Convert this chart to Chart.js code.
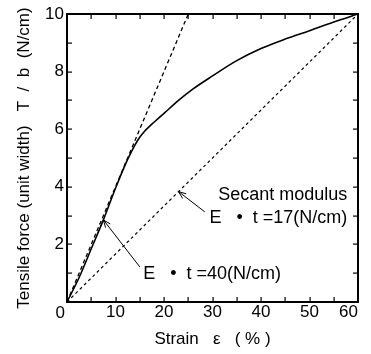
<!DOCTYPE html>
<html>
<head>
<meta charset="utf-8">
<script src="https://cdn.jsdelivr.net/npm/chart.js@4.4.1/dist/chart.umd.min.js"></script>
<style>
  html, body { margin: 0; padding: 0; background: #fff; }
  #wrap { width: 371px; height: 354px; }
</style>
</head>
<body>
<div id="wrap"><canvas id="chart" width="371" height="354"></canvas></div>
<script>
// load curve: strain (%) vs tensile force per unit width (N/cm)
const strain = [0, 2.5, 5, 7.5, 10, 12.5, 14, 15, 16, 17, 18, 20, 23, 26, 30, 35, 40, 45, 50, 55, 60];
const force = [0, 0.85, 1.85, 2.85, 3.95, 4.95, 5.45, 5.72, 5.93, 6.1, 6.25, 6.55, 7.0, 7.4, 7.85, 8.38, 8.8, 9.13, 9.42, 9.72, 10];

// initial tangent, E·t = 40 N/cm
const tangentStrain = [0, 25];
const tangentForce = [0, 10];

// secant to the end point, E·t = 17 N/cm
const secantStrain = [0, 60];
const secantForce = [0, 10];

const xTicks = [0, 10, 20, 30, 40, 50, 60];
const yTicks = [0, 2, 4, 6, 8, 10];

const FONT = '"Liberation Sans", Arial, Helvetica, sans-serif';
Chart.defaults.font.family = FONT;
Chart.defaults.font.size = 17;
Chart.defaults.color = '#000';

const toPoints = (xs, ys) => xs.map((v, i) => ({ x: v, y: ys[i] }));

// callouts, placed in data units
const secantAt = 23;
const notes = [
  {
    lines: ['Secant modulus', 'E   \u2022  t =17(N/cm)'],
    at: [57.8, [3.70, 2.93]], align: 'right',
    tail: [28.4, 3.13],
    tip: [secantAt, secantAt * secantForce[1] / secantStrain[1]]
  },
  {
    lines: ['E   \u2022  t =40(N/cm)'],
    at: [15.7, [0.97]], align: 'left',
    tail: [15.0, 1.22],
    tip: [strain[3], force[3]]
  }
];

const drawArrow = (ctx, x0, y0, x1, y1) => {
  const ang = Math.atan2(y1 - y0, x1 - x0);
  ctx.beginPath();
  ctx.moveTo(x0, y0);
  ctx.lineTo(x1, y1);
  for (const d of [-0.38, 0.38]) {
    ctx.moveTo(x1, y1);
    ctx.lineTo(x1 - 8 * Math.cos(ang + d), y1 - 8 * Math.sin(ang + d));
  }
  ctx.stroke();
};

// box frame with inward ticks on all four sides, corner zero, callouts
const framePlugin = {
  id: 'frame',
  afterDraw(chart) {
    const { ctx, chartArea: a, scales: { x, y } } = chart;
    const l = Math.round(a.left), r = Math.round(a.right);
    const t = Math.round(a.top), b = Math.round(a.bottom);
    ctx.save();
    ctx.setLineDash([]);
    ctx.fillStyle = '#000';
    ctx.fillRect(l - 1, t - 1, r - l + 2, 2);
    ctx.fillRect(l - 1, b - 1, r - l + 2, 2);
    ctx.fillRect(l - 1, t - 1, 2, b - t + 2);
    ctx.fillRect(r - 1, t - 1, 2, b - t + 2);

    for (let v = 5; v < xTicks[xTicks.length - 1]; v += 5) {
      const px = Math.round(x.getPixelForValue(v));
      ctx.fillRect(px - 0.5, b - 5, 1.2, 5);
      ctx.fillRect(px - 0.5, t, 1.2, 5);
    }
    for (let v = 1; v < yTicks[yTicks.length - 1]; v += 1) {
      const py = Math.round(y.getPixelForValue(v));
      ctx.fillRect(l, py - 0.5, 5, 1.2);
      ctx.fillRect(r - 5, py - 0.5, 5, 1.2);
    }

    ctx.font = '17px ' + FONT;
    ctx.textAlign = 'right';
    ctx.textBaseline = 'alphabetic';
    ctx.fillText(String(xTicks[0]), x.getPixelForValue(0) - 2, a.bottom + 16);

    ctx.strokeStyle = '#000';
    ctx.font = '18px ' + FONT;
    ctx.lineWidth = 1;
    ctx.textBaseline = 'middle';
    notes.forEach(n => {
      ctx.textAlign = n.align;
      n.lines.forEach((s, i) => {
        ctx.fillText(s, x.getPixelForValue(n.at[0]), y.getPixelForValue(n.at[1][i]));
      });
      drawArrow(ctx,
        x.getPixelForValue(n.tail[0]), y.getPixelForValue(n.tail[1]),
        x.getPixelForValue(n.tip[0]), y.getPixelForValue(n.tip[1]));
    });
    ctx.restore();
  }
};

new Chart(document.getElementById('chart'), {
  type: 'line',
  data: {
    datasets: [
      {
        data: toPoints(strain, force),
        borderColor: '#000',
        borderWidth: 1.6,
        pointRadius: 0,
        cubicInterpolationMode: 'monotone'
      },
      {
        data: toPoints(tangentStrain, tangentForce),
        borderColor: '#000',
        borderWidth: 1.3,
        borderDash: [4, 3],
        pointRadius: 0
      },
      {
        data: toPoints(secantStrain, secantForce),
        borderColor: '#000',
        borderWidth: 1.2,
        borderDash: [3, 3],
        pointRadius: 0
      }
    ]
  },
  options: {
    responsive: false,
    animation: false,
    layout: { padding: { left: 0, right: 13, top: 14, bottom: 4 } },
    plugins: { legend: { display: false }, tooltip: { enabled: false } },
    scales: {
      x: {
        type: 'linear',
        min: xTicks[0],
        max: xTicks[xTicks.length - 1],
        grid: { display: false, drawTicks: false },
        border: { display: false },
        ticks: {
          stepSize: 10,
          padding: 0,
          align: 'inner',
          maxRotation: 0,
          callback: v => (v === 0 ? '' : v)
        },
        title: {
          display: true,
          text: 'Strain   \u03b5   ( % )',
          padding: { top: 0, bottom: 0 }
        },
        afterFit: s => { s.height = 48; }
      },
      y: {
        min: yTicks[0],
        max: yTicks[yTicks.length - 1],
        grid: { display: false, drawTicks: false },
        border: { display: false },
        ticks: {
          stepSize: 2,
          padding: 3,
          callback: v => (v === 0 ? '' : v)
        },
        title: {
          display: true,
          text: 'Tensile force (unit width)   T  /  b  (N/cm)',
          padding: { top: 14, bottom: 0 }
        },
        afterFit: s => { s.width = 67; }
      }
    }
  },
  plugins: [framePlugin]
});
</script>
</body>
</html>
